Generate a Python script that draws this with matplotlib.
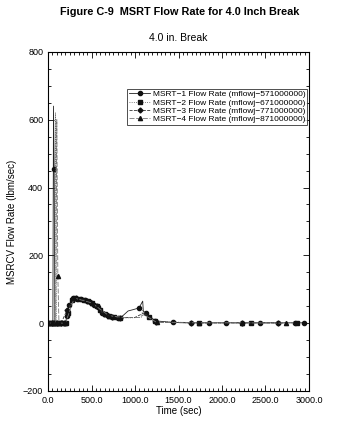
import matplotlib
matplotlib.use('Agg')
import matplotlib.pyplot as plt
from matplotlib.ticker import MultipleLocator, FormatStrFormatter

matplotlib.rc('font', family='Liberation Sans')

# MSRT-1 (mflowj-571000000)
t1 = [0, 20, 45, 55, 62, 70, 78, 120, 150, 180, 200, 215, 245, 290, 330, 380, 430, 480, 530,
      570, 620, 680, 740, 800, 860, 920, 980, 1046, 1088, 1095, 1130, 1230, 1440, 1640, 1850,
      2043, 2234, 2437, 2640, 2839, 2943]
f1 = [0, 0, 0, 0, 640, 455, 0, 0, 0, 0, 0, 20, 55, 75, 72, 70, 67, 62, 55,
      48, 31, 24, 19, 14, 22, 36, 40, 45, 65, 35, 30, 7, 2, 1, 1,
      1, 1, 1, 1, 1, 1]
# MSRT-2 (mflowj-671000000)
t2 = [0, 30, 60, 80, 85, 95, 130, 170, 205, 230, 270, 310, 360, 410, 460, 510, 560, 600, 650,
      700, 760, 828, 900, 980, 1070, 1090, 1110, 1160, 1230, 1735, 2330, 2860]
f2 = [0, 0, 0, 0, 620, 0, 0, 0, 0, 30, 68, 74, 71, 69, 66, 60, 52, 40, 28,
      22, 17, 15, 16, 16, 17, 40, 30, 18, 5, 1, 1, 1]
# MSRT-3 (mflowj-771000000)
t3 = [0, 40, 100, 150, 220, 320, 450, 560, 640, 740, 828, 1000, 1100, 1240, 1640, 2234, 2640]
f3 = [0, 0, 0, 0, 40, 73, 66, 50, 26, 18, 16, 17, 30, 3, 1, 1, 1]
# MSRT-4 (mflowj-871000000)
t4 = [0, 50, 88, 100, 112, 125, 200, 300, 500, 700, 900, 1050, 1100, 1250, 1735, 2234, 2732]
f4 = [0, 0, 0, 600, 140, 0, 0, 74, 60, 22, 16, 17, 25, 2, 1, 1, 0]

labels = ['MSRT\u22121 Flow Rate (mflowj\u2212571000000)',
          'MSRT\u22122 Flow Rate (mflowj\u2212671000000)',
          'MSRT\u22123 Flow Rate (mflowj\u2212771000000)',
          'MSRT\u22124 Flow Rate (mflowj\u2212871000000)']

# points with no symbol (spike tops and the bump near 1000 s)
nomark1 = [4, 24, 25, 26, 28, 29]
nomark2 = [4, 22, 23, 24, 25, 26]
nomark3 = [11, 12]
nomark4 = [3, 10, 11, 12]

fig = plt.figure(figsize=(3.46, 4.25), dpi=100)
ax = fig.add_axes([0.139, 0.08, 0.754, 0.798])

series = [(t1, f1, nomark1, '#222222', '-', 'o', 3.0),
          (t2, f2, nomark2, '#555555', ':', 's', 2.8),
          (t3, f3, nomark3, '#333333', '--', 'D', 2.5),
          (t4, f4, nomark4, '#777777', (0, (6, 2)), '^', 3.0)]
for (t, f, nm, c, ls, m, ms), lab in zip(series, labels):
    ax.plot(t, f, color=c, lw=0.6, ls=ls, marker=m, ms=ms, mfc='#111111', mec='#111111',
            markevery=[i for i in range(len(t)) if i not in nm], label=lab)

ax.set_xlim(0, 3000)
ax.set_ylim(-200, 800)
ax.xaxis.set_major_locator(MultipleLocator(500))
ax.xaxis.set_minor_locator(MultipleLocator(50))
ax.yaxis.set_major_locator(MultipleLocator(200))
ax.yaxis.set_minor_locator(MultipleLocator(50))
ax.xaxis.set_major_formatter(FormatStrFormatter('%.1f'))
ax.tick_params(which='both', direction='in', top=True, right=True, labelsize=6.5, width=0.6)
ax.tick_params(which='major', length=4)
ax.tick_params(which='minor', length=2)
for s in ax.spines.values():
    s.set_linewidth(0.8)

ax.set_xlabel('Time (sec)', fontsize=7, labelpad=1)
ax.set_ylabel('MSRCV Flow Rate (lbm/sec)', fontsize=7, labelpad=4)
ax.set_title('4.0 in. Break', fontsize=7.5, pad=8)
fig.text(0.52, 0.972, 'Figure C-9  MSRT Flow Rate for 4.0 Inch Break', ha='center', va='center',
         fontsize=7.8, fontweight='bold')

leg = ax.legend(loc='upper right', bbox_to_anchor=(0.993, 0.891), fontsize=6, frameon=True,
                fancybox=False, edgecolor='#222222', borderpad=0.2, labelspacing=0.05,
                handlelength=2.6, handletextpad=0.3, borderaxespad=0)
leg.get_frame().set_linewidth(0.7)

fig.savefig('out.png', dpi=100)
